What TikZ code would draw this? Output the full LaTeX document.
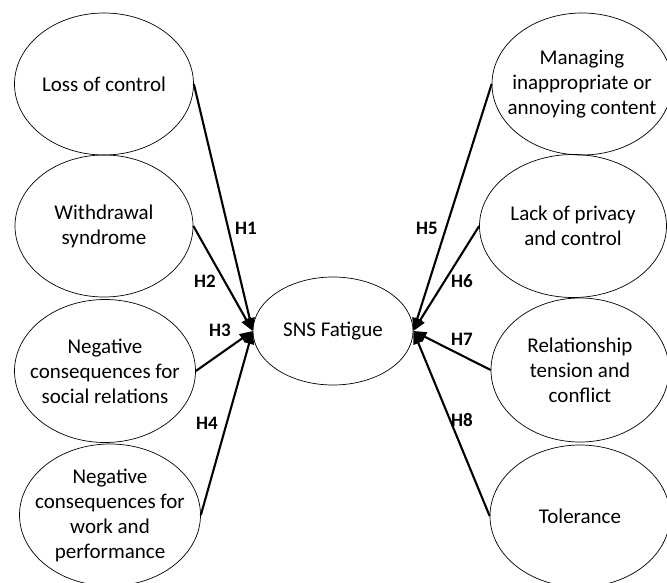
\documentclass[tikz,border=0pt]{standalone}
\usepackage{fontspec}
\setmainfont{Carlito}
\usetikzlibrary{shapes.geometric,arrows.meta}

\begin{document}
\begin{tikzpicture}[x=1pt,y=-1pt,
	oval/.style={draw,ellipse,line width=0.7pt,inner sep=0pt},
	ovaltext/.style={align=center,font=\fontsize{21}{25}\selectfont},
	hyp/.style={font=\fontsize{19}{22}\selectfont\bfseries},
	arr/.style={line width=2.1pt,-{Triangle[length=13pt,width=10pt]}}]

	\useasboundingbox (0,0) rectangle (667,582);

	% centre
	\node[oval,minimum width=160pt,minimum height=108pt] (sns) at (333,331) {};
	\node[ovaltext] (snstxt) at (sns) {SNS Fatigue};

	% left column
	\node[oval,minimum width=179pt,minimum height=142pt] (loss) at (104,84) {};
	\node[oval,minimum width=178pt,minimum height=142pt] (withdr) at (104,226) {};
	\node[oval,minimum width=181pt,minimum height=143pt] (social) at (105,371) {};
	\node[oval,minimum width=181pt,minimum height=142pt] (work) at (110,515) {};

	\node[ovaltext] (losstxt) at (loss) {Loss of control};
	\node[ovaltext] (withdrtxt) at (withdr) {Withdrawal\\syndrome};
	\node[ovaltext] (socialtxt) at (social) {Negative\\consequences for\\social relations};
	\node[ovaltext] (worktxt) at (work) {Negative\\consequences for\\work and\\performance};

	% right column
	\node[oval,minimum width=180pt,minimum height=142pt] (manage) at (582,84) {};
	\node[oval,minimum width=187pt,minimum height=143pt] (privacy) at (573,226) {};
	\node[oval,minimum width=178pt,minimum height=144pt] (tension) at (580,370) {};
	\node[oval,minimum width=180pt,minimum height=142pt] (toler) at (580,516) {};

	\node[ovaltext] (managetxt) at (manage) {Managing\\inappropriate or\\annoying content};
	\node[ovaltext] (privacytxt) at (privacy) {Lack of privacy\\and control};
	\node[ovaltext] (tensiontxt) at (tension) {Relationship\\tension and\\conflict};
	\node[ovaltext] (tolertxt) at (toler) {Tolerance};

	% hypotheses
	\draw[arr] (loss.east) -- (sns.west);
	\draw[arr] (withdr.east) -- (sns.west);
	\draw[arr] (social.east) -- (sns.west);
	\draw[arr] (work.east) -- (sns.west);
	\draw[arr] (manage.west) -- (sns.east);
	\draw[arr] (privacy.west) -- (sns.east);
	\draw[arr] (tension.west) -- (sns.east);
	\draw[arr] (toler.west) -- (sns.east);

	\node[hyp] (h1) at (246,228) {H1};
	\node[hyp] (h2) at (205,281) {H2};
	\node[hyp] (h3) at (220,330) {H3};
	\node[hyp] (h4) at (207,423) {H4};
	\node[hyp] (h5) at (427,228) {H5};
	\node[hyp] (h6) at (462,281) {H6};
	\node[hyp] (h7) at (462,339) {H7};
	\node[hyp] (h8) at (462,420) {H8};
\end{tikzpicture}
\end{document}
